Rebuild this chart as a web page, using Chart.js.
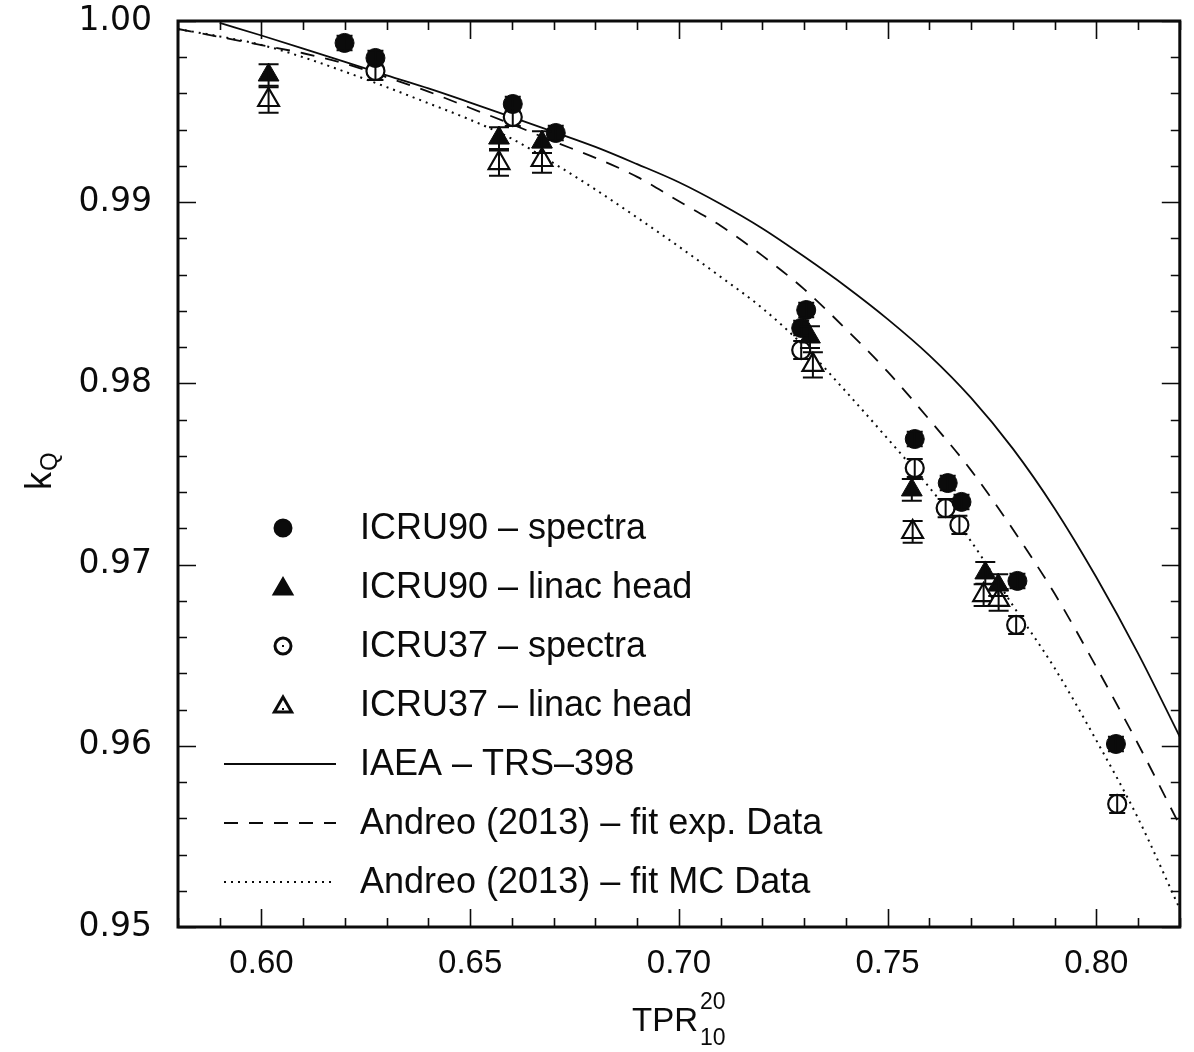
<!DOCTYPE html>
<html>
<head>
<meta charset="utf-8">
<title>kQ vs TPR</title>
<script src="https://cdn.jsdelivr.net/npm/chart.js@4.4.1/dist/chart.umd.min.js"></script>
<style>
  html, body { margin: 0; padding: 0; background: #fff; }
</style>
</head>
<body>
<canvas id="kq" width="1194" height="1052"></canvas>
<script>
// ---- data --------------------------------------------------------------

// ICRU90 stopping powers, photon spectra
const icru90SpecX = [0.6199, 0.6273, 0.6602, 0.6705, 0.7293, 0.7305, 0.7565, 0.7644, 0.7677, 0.7811, 0.8047];
const icru90SpecY = [0.99879, 0.99796, 0.99542, 0.99382, 0.98306, 0.98405, 0.97693, 0.97450, 0.97346, 0.96910, 0.96010];
const icru90SpecErr = [0.0004, 0.0004, 0.0004, 0.0004, 0.0004, 0.0004, 0.0004, 0.0004, 0.0004, 0.0004, 0.0004];

// ICRU90, full linac head simulation
const icru90HeadX = [0.6017, 0.6569, 0.6672, 0.7314, 0.7558, 0.7734, 0.7765];
const icru90HeadY = [0.99702, 0.99354, 0.99332, 0.98256, 0.97412, 0.96954, 0.96887];
const icru90HeadErr = [0.0006, 0.0006, 0.0006, 0.0006, 0.0006, 0.0006, 0.0006];

// ICRU37 stopping powers, photon spectra
const icru37SpecX = [0.6273, 0.6602, 0.7293, 0.7565, 0.7639, 0.7672, 0.7808, 0.8050];
const icru37SpecY = [0.99724, 0.99470, 0.98184, 0.97533, 0.97312, 0.97219, 0.96667, 0.95679];
const icru37SpecErr = [0.0005, 0.0005, 0.0005, 0.0005, 0.0005, 0.0005, 0.0005, 0.0005];

// ICRU37, full linac head simulation
const icru37HeadX = [0.6017, 0.6569, 0.6672, 0.7321, 0.7560, 0.7730, 0.7766];
const icru37HeadY = [0.99564, 0.99216, 0.99233, 0.98102, 0.97180, 0.96832, 0.96805];
const icru37HeadErr = [0.0007, 0.0007, 0.0007, 0.0007, 0.0006, 0.0006, 0.0006];

// reference curves
const trsX = [0.59, 0.60, 0.61, 0.62, 0.63, 0.64, 0.65, 0.66, 0.67, 0.68, 0.69, 0.70,
              0.71, 0.72, 0.73, 0.74, 0.75, 0.76, 0.77, 0.78, 0.79, 0.80, 0.81, 0.82];
const trsY = [0.99990, 0.99920, 0.99848, 0.99775, 0.99700, 0.99628, 0.99550, 0.99470,
              0.99388, 0.99305, 0.99210, 0.99110, 0.98990, 0.98855, 0.98700, 0.98535,
              0.98355, 0.98155, 0.97920, 0.97640, 0.97310, 0.96930, 0.96510, 0.96050];

const fitX = [0.58, 0.59, 0.60, 0.61, 0.62, 0.63, 0.64, 0.65, 0.66, 0.67, 0.68, 0.69, 0.70,
              0.71, 0.72, 0.73, 0.74, 0.75, 0.76, 0.77, 0.78, 0.79, 0.80, 0.81, 0.82];
const andreoExpY = [0.99956, 0.99912, 0.99867, 0.99822, 0.99765, 0.99690, 0.99610, 0.99520,
                    0.99430, 0.99335, 0.99245, 0.99140, 0.99005, 0.98870, 0.98705, 0.98520,
                    0.98300, 0.98065, 0.97800, 0.97520, 0.97195, 0.96840, 0.96435, 0.96010, 0.95560];
const andreoMcY = [0.99955, 0.99915, 0.99868, 0.99800, 0.99720, 0.99635, 0.99546, 0.99455,
                   0.99350, 0.99215, 0.99070, 0.98915, 0.98755, 0.98588, 0.98415, 0.98205,
                   0.97955, 0.97695, 0.97426, 0.97128, 0.96775, 0.96429, 0.96030, 0.95600, 0.95100];

// axes
const X_TICKS = [0.60, 0.65, 0.70, 0.75, 0.80];
const Y_TICKS = [0.95, 0.96, 0.97, 0.98, 0.99, 1.00];
const X_MINOR = 0.01;
const Y_MINOR = 0.002;

const LEGEND_LABELS = [
  'ICRU90 \u2013 spectra',
  'ICRU90 \u2013 linac head',
  'ICRU37 \u2013 spectra',
  'ICRU37 \u2013 linac head',
  'IAEA \u2013 TRS\u2013398',
  'Andreo (2013) \u2013 fit exp. Data',
  'Andreo (2013) \u2013 fit MC Data'
];

// ---- helpers -----------------------------------------------------------

const INK = '#0b0b0b';
const SANS = '"Liberation Sans", Arial, sans-serif';

const pts = (xs, ys) => xs.map((x, i) => ({ x: x, y: ys[i] }));

function markerSet(label, xs, ys, errs, style) {
  return Object.assign({
    type: 'scatter',
    label: label,
    data: pts(xs, ys),
    yErr: errs,
    borderColor: INK,
    pointBorderColor: INK,
    showLine: false
  }, style);
}

function curveSet(label, xs, ys, dash, width) {
  return {
    type: 'line',
    label: label,
    data: pts(xs, ys),
    borderColor: INK,
    borderWidth: width,
    borderDash: dash,
    pointRadius: 0,
    fill: false,
    cubicInterpolationMode: 'monotone',
    isCurve: true
  };
}

// keep the plot box fixed: no extra room for half-labels at the ends
function noOverhang(s) {
  s.paddingTop = 0;
  s.paddingBottom = 0;
  s.paddingLeft = 0;
  s.paddingRight = 0;
}

// vertical error bars with caps, in data units
const errorBars = {
  id: 'errorBars',
  afterDatasetsDraw(chart) {
    const ctx = chart.ctx;
    const ys = chart.scales.y;
    ctx.save();
    ctx.strokeStyle = INK;
    ctx.lineWidth = 2;
    chart.data.datasets.forEach((ds, di) => {
      if (!ds.yErr) return;
      const meta = chart.getDatasetMeta(di);
      const cap = ds.capWidth || 9;
      meta.data.forEach((el, i) => {
        const v = ds.data[i].y;
        const top = ys.getPixelForValue(v + ds.yErr[i]);
        const bot = ys.getPixelForValue(v - ds.yErr[i]);
        ctx.beginPath();
        ctx.moveTo(el.x, top);
        ctx.lineTo(el.x, bot);
        ctx.moveTo(el.x - cap, top);
        ctx.lineTo(el.x + cap, top);
        ctx.moveTo(el.x - cap, bot);
        ctx.lineTo(el.x + cap, bot);
        ctx.stroke();
      });
    });
    ctx.restore();
  }
};

// boxed frame with inward ticks on all four sides, axis titles and legend
const frame = {
  id: 'frame',
  afterDraw(chart) {
    const ctx = chart.ctx;
    const a = chart.chartArea;
    const xs = chart.scales.x;
    const ys = chart.scales.y;

    ctx.save();
    ctx.strokeStyle = INK;

    // minor and major ticks
    ctx.lineWidth = 1.6;
    ctx.beginPath();
    for (let v = 0.58; v <= 0.8201; v += X_MINOR) {
      const p = Math.round(xs.getPixelForValue(v)) + 0.5;
      const major = X_TICKS.some(t => Math.abs(t - v) < 1e-6);
      const len = major ? 18 : 9;
      ctx.moveTo(p, a.bottom); ctx.lineTo(p, a.bottom - len);
      ctx.moveTo(p, a.top); ctx.lineTo(p, a.top + len);
    }
    for (let v = 0.95; v <= 1.0001; v += Y_MINOR) {
      const p = Math.round(ys.getPixelForValue(v)) + 0.5;
      const major = Y_TICKS.some(t => Math.abs(t - v) < 1e-6);
      const len = major ? 18 : 9;
      ctx.moveTo(a.left, p); ctx.lineTo(a.left + len, p);
      ctx.moveTo(a.right, p); ctx.lineTo(a.right - len, p);
    }
    ctx.stroke();

    ctx.lineWidth = 3;
    ctx.strokeRect(a.left, a.top, a.right - a.left, a.bottom - a.top);

    // axis titles
    ctx.fillStyle = INK;
    ctx.textBaseline = 'alphabetic';
    ctx.textAlign = 'left';
    ctx.font = '33px ' + SANS;
    const tprX = 632;
    ctx.fillText('TPR', tprX, 1031);
    const tprW = ctx.measureText('TPR').width;
    ctx.font = '23px ' + SANS;
    ctx.fillText('20', tprX + tprW + 2, 1009);
    ctx.fillText('10', tprX + tprW + 2, 1045);

    ctx.save();
    ctx.translate(51, 490);
    ctx.rotate(-Math.PI / 2);
    ctx.font = '36px ' + SANS;
    ctx.fillText('k', 0, 0);
    ctx.font = '24px ' + SANS;
    ctx.fillText('Q', 19, 6);
    ctx.restore();

    // legend
    const rows = [528, 587, 646, 705, 764, 823, 882];
    const mx = 283;
    ctx.font = '36px ' + SANS;
    ctx.textBaseline = 'middle';
    chart.data.datasets.forEach((ds, i) => {
      const y = rows[i];
      ctx.strokeStyle = INK;
      ctx.fillStyle = INK;
      if (ds.isCurve) {
        ctx.save();
        ctx.lineWidth = ds.borderWidth;
        ctx.setLineDash(ds.borderDash || []);
        ctx.beginPath();
        ctx.moveTo(224, y);
        ctx.lineTo(336, y);
        ctx.stroke();
        ctx.restore();
      } else {
        ctx.save();
        ctx.fillStyle = ds.pointBackgroundColor;
        Chart.helpers.drawPoint(ctx, {
          pointStyle: ds.pointStyle,
          radius: ds.legendRadius,
          rotation: 0,
          borderWidth: ds.pointBorderWidth
        }, mx, ds.pointStyle === 'triangle' ? y + 2 : y);
        if (ds.pointBackgroundColor === '#ffffff') {
          ctx.fillStyle = INK;
          ctx.fillRect(mx - 1, y + (ds.pointStyle === 'triangle' ? 3 : -1), 2, 2);
        }
        ctx.restore();
      }
      ctx.fillStyle = INK;
      ctx.fillText(LEGEND_LABELS[i], 360, y + 1);
    });

    ctx.restore();
  }
};

// ---- chart -------------------------------------------------------------

new Chart(document.getElementById('kq'), {
  type: 'scatter',
  data: {
    datasets: [
      markerSet(LEGEND_LABELS[0], icru90SpecX, icru90SpecY, icru90SpecErr, {
        pointStyle: 'circle', pointRadius: 9.5, pointBackgroundColor: INK,
        pointBorderWidth: 1, legendRadius: 8, capWidth: 8
      }),
      markerSet(LEGEND_LABELS[1], icru90HeadX, icru90HeadY, icru90HeadErr, {
        pointStyle: 'triangle', pointRadius: 12, pointBackgroundColor: INK,
        pointBorderWidth: 1, legendRadius: 10, capWidth: 10
      }),
      markerSet(LEGEND_LABELS[2], icru37SpecX, icru37SpecY, icru37SpecErr, {
        pointStyle: 'circle', pointRadius: 9, pointBackgroundColor: '#ffffff',
        pointBorderWidth: 2.2, legendRadius: 8, capWidth: 8
      }),
      markerSet(LEGEND_LABELS[3], icru37HeadX, icru37HeadY, icru37HeadErr, {
        pointStyle: 'triangle', pointRadius: 12, pointBackgroundColor: '#ffffff',
        pointBorderWidth: 2.2, legendRadius: 10, capWidth: 10
      }),
      curveSet(LEGEND_LABELS[4], trsX, trsY, [], 1.8),
      curveSet(LEGEND_LABELS[5], fitX, andreoExpY, [14, 11], 1.8),
      curveSet(LEGEND_LABELS[6], fitX, andreoMcY, [2, 5], 2)
    ]
  },
  options: {
    responsive: false,
    devicePixelRatio: 1,
    animation: false,
    layout: { padding: { top: 21, right: 11, left: 0, bottom: 0 } },
    plugins: {
      legend: { display: false },
      tooltip: { enabled: false }
    },
    scales: {
      x: {
        type: 'linear',
        min: 0.58,
        max: 0.82,
        afterBuildTicks: s => { s.ticks = X_TICKS.map(v => ({ value: v })); },
        afterFit: s => { s.height = 125; noOverhang(s); },
        grid: { display: false, drawTicks: false },
        border: { display: false },
        ticks: {
          callback: v => v.toFixed(2),
          color: INK,
          font: { family: SANS, size: 33 },
          padding: 17,
          maxRotation: 0
        }
      },
      y: {
        type: 'linear',
        min: 0.95,
        max: 1.00,
        afterBuildTicks: s => { s.ticks = Y_TICKS.map(v => ({ value: v })); },
        afterFit: s => { s.width = 178; noOverhang(s); },
        grid: { display: false, drawTicks: false },
        border: { display: false },
        ticks: {
          callback: v => v.toFixed(2),
          color: INK,
          font: { family: '"DejaVu Sans", sans-serif', size: 33 },
          padding: 26
        }
      }
    }
  },
  plugins: [errorBars, frame]
});
</script>
</body>
</html>
